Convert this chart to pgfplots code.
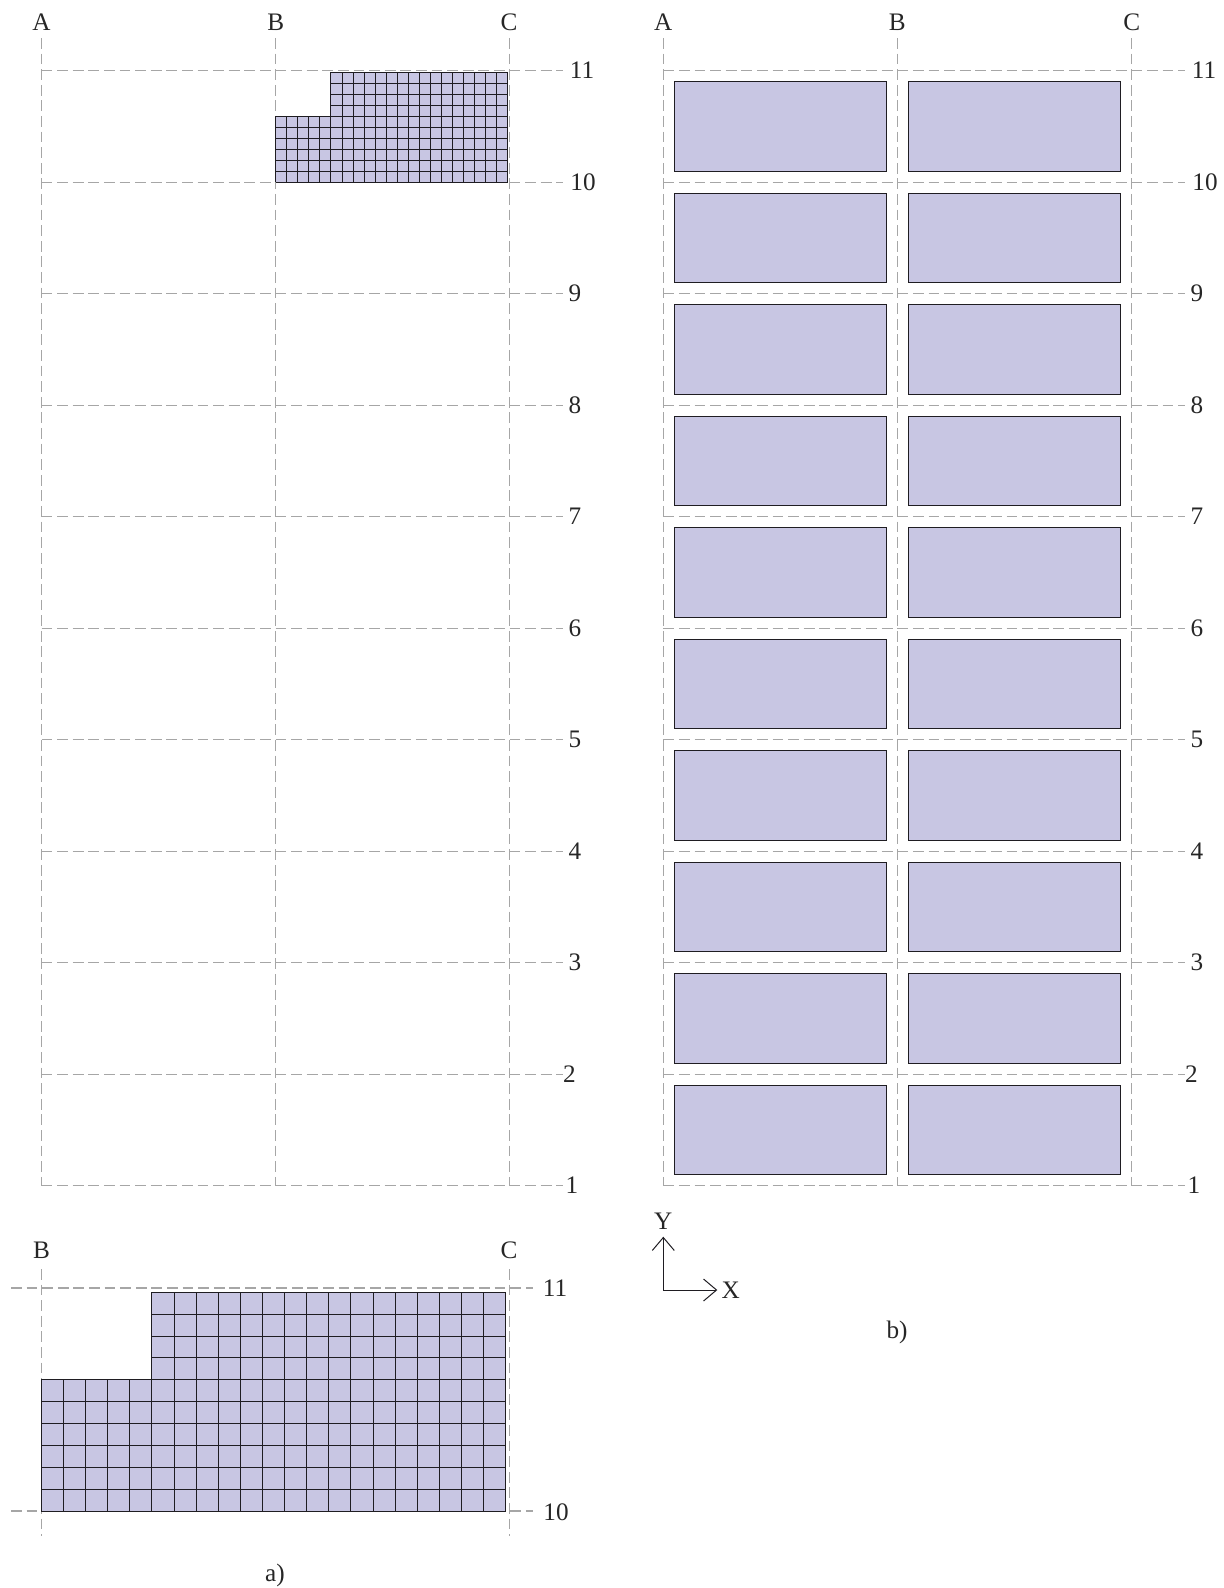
\documentclass[border=0pt]{standalone}
\usepackage{pgfplots}
\pgfplotsset{compat=1.18}
\usepackage{fontspec}
\setmainfont{Liberation Serif}
\usetikzlibrary{arrows.meta}
\definecolor{cellfill}{HTML}{C8C6E3}
\definecolor{gridgray}{HTML}{A6A6A6}
\definecolor{meshline}{HTML}{1F1D22}
\tikzset{
  gridline/.style={color=gridgray, line width=0.66pt, dash pattern=on 5.4pt off 2.4pt},
  meshgrid/.style={color=meshline, line width=0.5pt},
  lab/.style={font=\fontsize{12.6pt}{13pt}\selectfont, text=black!85, inner sep=0pt, anchor=center},
}
\begin{document}
\begin{tikzpicture}
\useasboundingbox (0,0) rectangle (612pt,794pt);
\begin{axis}[
  at={(0,0)}, anchor=south west,
  scale only axis, width=612pt, height=794pt,
  xmin=0, xmax=1224, ymin=0, ymax=1588, y dir=reverse,
  hide axis, clip=false, unbounded coords=jump, no markers,
]
% ---- panel a: grid
\addplot[gridline] table {
41.5 70.7
563 70.7
nan nan
41.5 182.3
563 182.3
nan nan
41.5 293.8
563 293.8
nan nan
41.5 405.3
563 405.3
nan nan
41.5 516.8
563 516.8
nan nan
41.5 628.2
563 628.2
nan nan
41.5 739.7
563 739.7
nan nan
41.5 851.2
563 851.2
nan nan
41.5 962.7
563 962.7
nan nan
41.5 1074.3
563 1074.3
nan nan
41.5 1185.7
563 1185.7
nan nan
41.5 38
41.5 1185.7
nan nan
275.7 38
275.7 1185.7
nan nan
509.3 38
509.3 1185.7
};
% ---- panel a: small mesh outline fill
\addplot[fill=cellfill, draw=none] table {
275.7 182.3
507.7 182.3
507.7 72.3
330.9 72.3
330.9 116.3
275.7 116.3
275.7 182.3
};
\addplot[meshgrid] table {
275.7 182.3
275.7 116.3
nan nan
286.7 182.3
286.7 116.3
nan nan
297.8 182.3
297.8 116.3
nan nan
308.8 182.3
308.8 116.3
nan nan
319.9 182.3
319.9 116.3
nan nan
330.9 182.3
330.9 72.3
nan nan
342.0 182.3
342.0 72.3
nan nan
353.0 182.3
353.0 72.3
nan nan
364.1 182.3
364.1 72.3
nan nan
375.1 182.3
375.1 72.3
nan nan
386.2 182.3
386.2 72.3
nan nan
397.2 182.3
397.2 72.3
nan nan
408.3 182.3
408.3 72.3
nan nan
419.3 182.3
419.3 72.3
nan nan
430.4 182.3
430.4 72.3
nan nan
441.4 182.3
441.4 72.3
nan nan
452.5 182.3
452.5 72.3
nan nan
463.5 182.3
463.5 72.3
nan nan
474.6 182.3
474.6 72.3
nan nan
485.6 182.3
485.6 72.3
nan nan
496.7 182.3
496.7 72.3
nan nan
507.7 182.3
507.7 72.3
nan nan
275.7 182.3
507.7 182.3
nan nan
275.7 171.3
507.7 171.3
nan nan
275.7 160.3
507.7 160.3
nan nan
275.7 149.3
507.7 149.3
nan nan
275.7 138.3
507.7 138.3
nan nan
275.7 127.3
507.7 127.3
nan nan
275.7 116.3
507.7 116.3
nan nan
330.9 105.3
507.7 105.3
nan nan
330.9 94.3
507.7 94.3
nan nan
330.9 83.3
507.7 83.3
nan nan
330.9 72.3
507.7 72.3
};
% ---- panel a detail: grid
\addplot[gridline] table {
11 1288
533 1288
nan nan
11 1511
533 1511
nan nan
41.3 1269
41.3 1536
nan nan
509.7 1269
509.7 1536
};
\addplot[fill=cellfill, draw=none] table {
41.3 1511
505.7 1511
505.7 1292.3
151.9 1292.3
151.9 1379.8
41.3 1379.8
41.3 1511
};
\addplot[meshgrid] table {
41.3 1511
41.3 1379.8
nan nan
63.4 1511
63.4 1379.8
nan nan
85.5 1511
85.5 1379.8
nan nan
107.6 1511
107.6 1379.8
nan nan
129.8 1511
129.8 1379.8
nan nan
151.9 1511
151.9 1292.3
nan nan
174.0 1511
174.0 1292.3
nan nan
196.1 1511
196.1 1292.3
nan nan
218.2 1511
218.2 1292.3
nan nan
240.3 1511
240.3 1292.3
nan nan
262.4 1511
262.4 1292.3
nan nan
284.6 1511
284.6 1292.3
nan nan
306.7 1511
306.7 1292.3
nan nan
328.8 1511
328.8 1292.3
nan nan
350.9 1511
350.9 1292.3
nan nan
373.0 1511
373.0 1292.3
nan nan
395.1 1511
395.1 1292.3
nan nan
417.2 1511
417.2 1292.3
nan nan
439.4 1511
439.4 1292.3
nan nan
461.5 1511
461.5 1292.3
nan nan
483.6 1511
483.6 1292.3
nan nan
505.7 1511
505.7 1292.3
nan nan
41.3 1511
505.7 1511
nan nan
41.3 1489.1
505.7 1489.1
nan nan
41.3 1467.3
505.7 1467.3
nan nan
41.3 1445.4
505.7 1445.4
nan nan
41.3 1423.5
505.7 1423.5
nan nan
41.3 1401.7
505.7 1401.7
nan nan
41.3 1379.8
505.7 1379.8
nan nan
151.9 1357.9
505.7 1357.9
nan nan
151.9 1336.0
505.7 1336.0
nan nan
151.9 1314.2
505.7 1314.2
nan nan
151.9 1292.3
505.7 1292.3
};
% ---- panel b: grid
\addplot[gridline] table {
663.3 70.7
1185 70.7
nan nan
663.3 182.3
1185 182.3
nan nan
663.3 293.8
1185 293.8
nan nan
663.3 405.3
1185 405.3
nan nan
663.3 516.8
1185 516.8
nan nan
663.3 628.2
1185 628.2
nan nan
663.3 739.7
1185 739.7
nan nan
663.3 851.2
1185 851.2
nan nan
663.3 962.7
1185 962.7
nan nan
663.3 1074.3
1185 1074.3
nan nan
663.3 1185.7
1185 1185.7
nan nan
663.3 38
663.3 1185.7
nan nan
897.3 38
897.3 1185.7
nan nan
1131.7 38
1131.7 1185.7
};
% ---- panel b: slabs, left column
\addplot[fill=cellfill, draw=meshline, line width=0.5pt] table {
674.3 81.7
886.3 81.7
886.3 171.3
674.3 171.3
674.3 81.7
nan nan
674.3 193.3
886.3 193.3
886.3 282.8
674.3 282.8
674.3 193.3
nan nan
674.3 304.8
886.3 304.8
886.3 394.3
674.3 394.3
674.3 304.8
nan nan
674.3 416.3
886.3 416.3
886.3 505.8
674.3 505.8
674.3 416.3
nan nan
674.3 527.8
886.3 527.8
886.3 617.2
674.3 617.2
674.3 527.8
nan nan
674.3 639.2
886.3 639.2
886.3 728.7
674.3 728.7
674.3 639.2
nan nan
674.3 750.7
886.3 750.7
886.3 840.2
674.3 840.2
674.3 750.7
nan nan
674.3 862.2
886.3 862.2
886.3 951.7
674.3 951.7
674.3 862.2
nan nan
674.3 973.7
886.3 973.7
886.3 1063.3
674.3 1063.3
674.3 973.7
nan nan
674.3 1085.3
886.3 1085.3
886.3 1174.7
674.3 1174.7
674.3 1085.3
};
% ---- panel b: slabs, right column
\addplot[fill=cellfill, draw=meshline, line width=0.5pt] table {
908.3 81.7
1120.3 81.7
1120.3 171.3
908.3 171.3
908.3 81.7
nan nan
908.3 193.3
1120.3 193.3
1120.3 282.8
908.3 282.8
908.3 193.3
nan nan
908.3 304.8
1120.3 304.8
1120.3 394.3
908.3 394.3
908.3 304.8
nan nan
908.3 416.3
1120.3 416.3
1120.3 505.8
908.3 505.8
908.3 416.3
nan nan
908.3 527.8
1120.3 527.8
1120.3 617.2
908.3 617.2
908.3 527.8
nan nan
908.3 639.2
1120.3 639.2
1120.3 728.7
908.3 728.7
908.3 639.2
nan nan
908.3 750.7
1120.3 750.7
1120.3 840.2
908.3 840.2
908.3 750.7
nan nan
908.3 862.2
1120.3 862.2
1120.3 951.7
908.3 951.7
908.3 862.2
nan nan
908.3 973.7
1120.3 973.7
1120.3 1063.3
908.3 1063.3
908.3 973.7
nan nan
908.3 1085.3
1120.3 1085.3
1120.3 1174.7
908.3 1174.7
908.3 1085.3
};
% ---- axes arrows
\addplot[color=meshline, line width=0.5pt, -{Straight Barb[length=6.5pt,width=11pt]}] coordinates {(663.3,1290) (663.3,1236.7)};
\addplot[color=meshline, line width=0.5pt, -{Straight Barb[length=6.5pt,width=11pt]}] coordinates {(663.3,1290) (717.3,1290)};
% ---- labels
\node[lab] at (axis cs:41.5,22) {A};
\node[lab] at (axis cs:275.7,22) {B};
\node[lab] at (axis cs:509,22) {C};
\node[lab] at (axis cs:663.3,22) {A};
\node[lab] at (axis cs:897.3,22) {B};
\node[lab] at (axis cs:1131.7,22) {C};
\node[lab] at (axis cs:582,70) {11};
\node[lab] at (axis cs:583,182) {10};
\node[lab] at (axis cs:575,293.5) {9};
\node[lab] at (axis cs:575,405) {8};
\node[lab] at (axis cs:575,516.5) {7};
\node[lab] at (axis cs:575,628) {6};
\node[lab] at (axis cs:575,739.5) {5};
\node[lab] at (axis cs:575,851) {4};
\node[lab] at (axis cs:575,962) {3};
\node[lab] at (axis cs:569.5,1074) {2};
\node[lab] at (axis cs:572,1185) {1};
\node[lab] at (axis cs:1204,70) {11};
\node[lab] at (axis cs:1205,182) {10};
\node[lab] at (axis cs:1197,293.5) {9};
\node[lab] at (axis cs:1197,405) {8};
\node[lab] at (axis cs:1197,516.5) {7};
\node[lab] at (axis cs:1197,628) {6};
\node[lab] at (axis cs:1197,739.5) {5};
\node[lab] at (axis cs:1197,851) {4};
\node[lab] at (axis cs:1197,962) {3};
\node[lab] at (axis cs:1191.5,1074) {2};
\node[lab] at (axis cs:1194,1185) {1};
\node[lab] at (axis cs:41.5,1250) {B};
\node[lab] at (axis cs:509,1250) {C};
\node[lab] at (axis cs:555,1288) {11};
\node[lab] at (axis cs:556,1512) {10};
\node[lab] at (axis cs:275,1575) {a)};
\node[lab] at (axis cs:897,1332) {b)};
\node[lab] at (axis cs:663.3,1221.7) {Y};
\node[lab] at (axis cs:730.7,1290) {X};
\end{axis}
\end{tikzpicture}
\end{document}
